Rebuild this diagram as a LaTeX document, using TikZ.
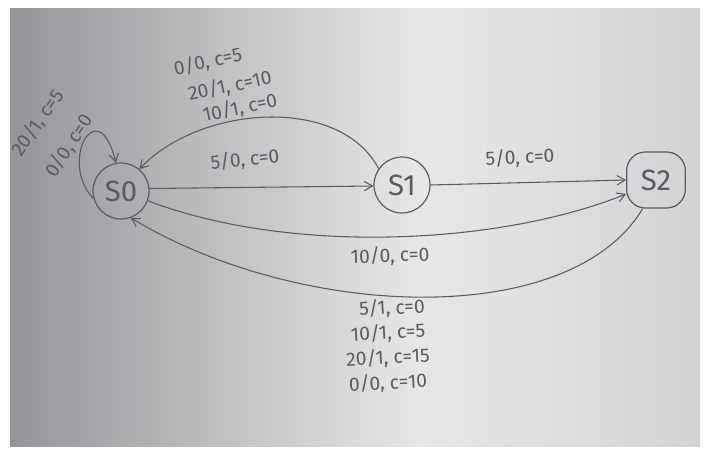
\documentclass[tikz,border=0pt]{standalone}
\usepackage{fontspec}
\setmainfont{Fira Sans}
\usetikzlibrary{arrows.meta}
\definecolor{pencil}{RGB}{92,90,94}
\definecolor{paperL}{RGB}{150,148,152}
\definecolor{paperM}{RGB}{232,231,232}
\definecolor{paperR}{RGB}{212,210,213}
\tikzset{
  statenode/.style={draw=pencil, line width=0.9pt, circle, minimum size=42pt, inner sep=0pt,
    text=pencil, font=\fontsize{22}{24}\selectfont},
  edge/.style={draw=pencil, line width=0.8pt, -{Straight Barb[length=6pt,width=7pt]}},
  lbl/.style={text=pencil, font=\fontsize{14.5}{16}\selectfont, inner sep=0pt}
}
\begin{document}
\begin{tikzpicture}[x=0.75pt,y=-0.75pt]
\useasboundingbox (0,0) rectangle (711,454);
\fill[white] (0,0) rectangle (711,454);
\shade[left color=paperL, right color=paperM] (10,8) rectangle (420,446);
\shade[left color=paperM, right color=paperR] (419.5,8) rectangle (700,446);

\node[statenode] (s0) at (121,191) {S0};
\node[statenode] (s1) at (402,185) {S1};
\node[statenode, rounded corners=14pt, rectangle, minimum width=44pt, minimum height=42pt] (s2) at (656,180) {S2};

% self loop on S0
\draw[edge] (s0.195) .. controls (58,162) and (98,90) .. (s0.100);
\node[lbl, rotate=55] (l1) at (38,123) {20/1, c=5};
\node[lbl, rotate=57] (l2) at (69,146) {0/0, c=0};

% S1 -> S0 upper arc
\draw[edge] (s1.145) .. controls (340,95) and (200,105) .. (s0.50);
\node[lbl, rotate=12] (l3) at (208,62) {0/0, c=5};
\node[lbl, rotate=12] (l4) at (230,86) {20/1, c=10};
\node[lbl, rotate=12] (l5) at (240,108) {10/1, c=0};

% S0 -> S1
\draw[edge] (s0.5) -- (s1.182);
\node[lbl, rotate=6] (l6) at (245,160) {5/0, c=0};

% S1 -> S2
\draw[edge] (s1.east) -- (s2.west);
\node[lbl, rotate=3] (l7) at (520,158) {5/0, c=0};

% S0 -> S2 lower
\draw[edge] (s0.-20) .. controls (290,255) and (500,245) .. (s2.205);
\node[lbl, rotate=2] (l8) at (390,256) {10/0, c=0};

% S2 -> S0 big lower arc
\draw[edge] (s2.-115) .. controls (570,330) and (300,320) .. (s0.-70);
\node[lbl, rotate=3] (l9) at (392,308) {5/1, c=0};
\node[lbl, rotate=3] (l10) at (388,333) {10/1, c=5};
\node[lbl, rotate=3] (l11) at (388,358) {20/1, c=15};
\node[lbl, rotate=3] (l12) at (388,383) {0/0, c=10};
\end{tikzpicture}
\end{document}
